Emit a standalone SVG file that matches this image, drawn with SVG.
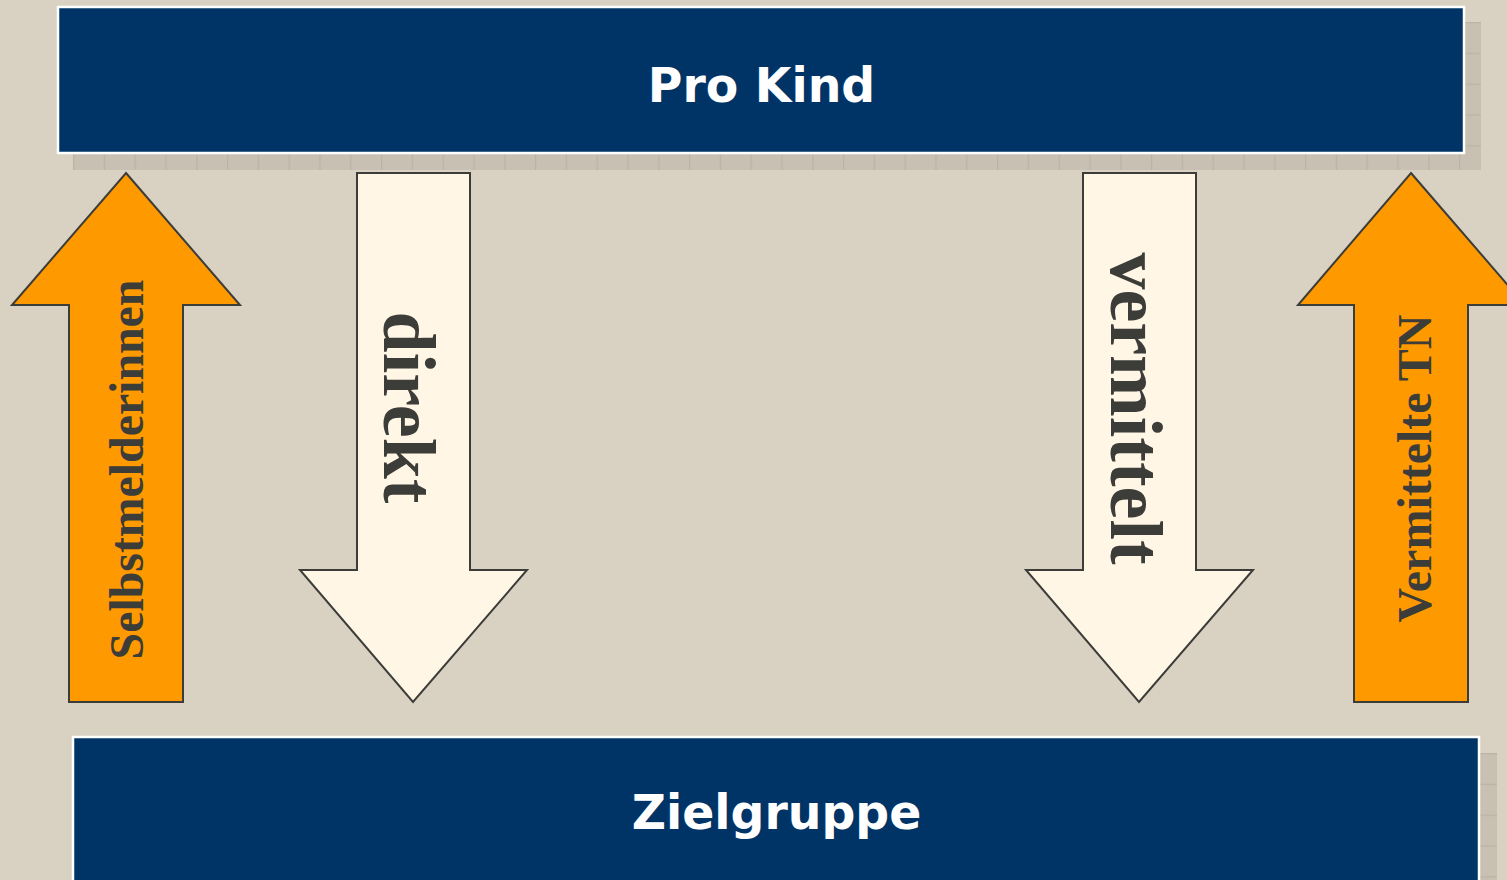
<svg xmlns="http://www.w3.org/2000/svg" width="1507" height="880" viewBox="0 0 1507 880">
<style>
.box{fill:#003466;stroke:#ffffff;stroke-width:2.5}
.up{fill:#FF9900;stroke:#3C3C38;stroke-width:2;stroke-linejoin:miter}
.down{fill:#FFF6E6;stroke:#3C3C38;stroke-width:2;stroke-linejoin:miter}
.title{font-family:"DejaVu Sans",Verdana,sans-serif;font-weight:bold;font-size:47.3px;fill:#ffffff;text-anchor:middle}
.lab{font-family:"Liberation Serif","Times New Roman",serif;font-weight:bold;fill:#3C3C38;text-anchor:middle}
</style>
<defs>
<pattern id="vt" x="73" y="0" width="30.8" height="40" patternUnits="userSpaceOnUse">
<rect width="30.8" height="40" fill="#C8C0B2"/>
<rect x="0" width="1.2" height="40" fill="#BBB3A5"/>
</pattern>
<pattern id="ht" x="0" y="22" width="20" height="30.8" patternUnits="userSpaceOnUse">
<rect width="20" height="30.8" fill="#C8C0B2"/>
<rect y="0" width="20" height="1.2" fill="#BBB3A5"/>
</pattern>
<pattern id="ht2" x="0" y="753" width="20" height="30.8" patternUnits="userSpaceOnUse">
<rect width="20" height="30.8" fill="#C8C0B2"/>
<rect y="0" width="20" height="1.2" fill="#BBB3A5"/>
</pattern>
</defs>
<rect width="1507" height="880" fill="#D9D2C3"/>
<g id="prokind">
<rect x="73" y="154" width="1408" height="16" fill="url(#vt)"/>
<rect x="1465" y="22" width="16" height="148" fill="url(#ht)"/>
<rect class="box" x="58" y="7" width="1406" height="146"/>
<text class="title" x="761.5" y="102">Pro Kind</text>
</g>
<g id="zielgruppe">
<rect x="1480" y="753" width="17" height="127" fill="url(#ht2)"/>
<rect class="box" x="73" y="737" width="1406" height="150"/>
<text class="title" x="776.5" y="829">Zielgruppe</text>
</g>
<g id="connectors">
<g id="selbstmelderinnen">
<polygon class="up" points="126,173 240,305 183,305 183,702 69,702 69,305 12,305"/>
<text class="lab" font-size="47.8" transform="translate(142.5,469.5) rotate(-90)">Selbstmelderinnen</text>
</g>
<g id="direkt">
<polygon class="down" points="357,173 470,173 470,570 527,570 413,702 300,570 357,570"/>
<text class="lab" font-size="74" transform="translate(384,407.5) rotate(90)">direkt</text>
</g>
<g id="vermittelt">
<polygon class="down" points="1083,173 1196,173 1196,570 1253,570 1139,702 1026,570 1083,570"/>
<text class="lab" font-size="74" transform="translate(1111,408.5) rotate(90)">vermittelt</text>
</g>
<g id="vermittelte-tn">
<polygon class="up" points="1411,173 1525,305 1468,305 1468,702 1354,702 1354,305 1298,305"/>
<text class="lab" font-size="48" transform="translate(1430.5,468.5) rotate(-90)">Vermittelte TN</text>
</g>
</g>
</svg>
